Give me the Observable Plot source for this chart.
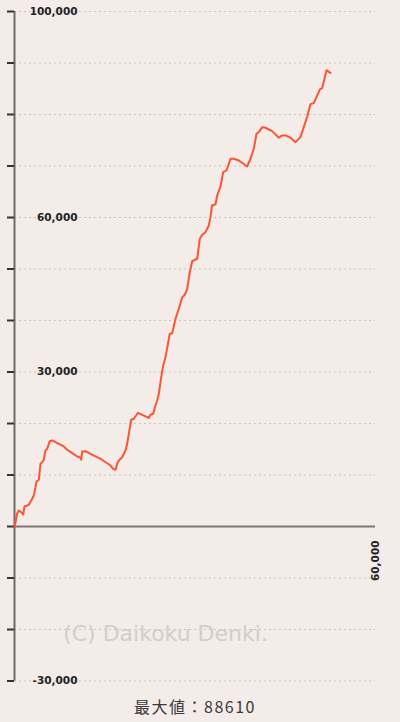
<!DOCTYPE html>
<html>
<head>
<meta charset="utf-8">
<script src="https://cdn.jsdelivr.net/npm/d3@7"></script>
<script src="https://cdn.jsdelivr.net/npm/@observablehq/plot@0.6"></script>
<style>
  html, body { margin: 0; padding: 0; background: #f4ece8; }
  #chart { width: 400px; }
  #caption { width: 390px; height: 32px; line-height: 32px; text-align: center;
    font-family: "Noto Sans CJK JP", "DejaVu Sans", sans-serif; font-size: 16px; color: #3a3a3a; letter-spacing: 1.5px; }
</style>
</head>
<body>
<div id="chart"></div>
<div id="caption"></div>
<script>
// games played (x) and cumulative difference (y)
const games = [0,166,449,715,1114,1446,1662,2111,2377,2942,3208,3490,3656,4039,4321,4604,4870,5152,5435,5867,
  6266,6532,7363,8194,8759,9590,10421,10969,11086,11252,11800,12631,14293,15955,16404,16786,17069,17335,17900,18448,
  18731,18997,19396,19828,20526,21224,22055,22321,22603,23052,23434,23717,23983,24382,24714,25096,25811,26210,26758,27307,
  27872,28304,28703,29135,29534,30365,30797,31196,31744,32293,32575,32825,33406,33689,34237,34686,35234,35899,36447,37278,
  38674,39223,39771,40220,40602,41167,41716,42829,43926,44491,45040,45871,46702,47533,48082,48647,49195,49744,50192,50741,
  51140,51522,51855,52237,52520];
const diff = [0,777,2525,3107,2777,2330,3884,4078,4214,5379,6020,7632,8739,9069,12176,12487,12953,14759,15089,16565,
  16701,16565,16060,15536,14895,14235,13594,13342,12953,14565,14623,14118,13147,11846,11205,11011,12176,12817,13458,14759,
  16060,18003,20721,20916,22081,21693,21227,21071,21693,21887,23498,24469,25770,28994,31266,32878,37423,37539,40336,42278,
  44530,44996,46161,49385,51521,51987,55871,56648,57153,58454,60066,62338,62571,64282,66028,68805,69135,71408,71408,71077,
  69912,71408,73349,76262,76573,77544,77428,76768,75486,75933,75933,75486,74631,75602,77544,79622,82011,82205,83371,84866,
  85119,86944,88610,88280,88086];
const yTicks = [-30000,-20000,-10000,0,10000,20000,30000,40000,50000,60000,70000,80000,90000,100000];
const yLabels = [100000, 60000, 30000, -30000];
const xLabels = [60000];
const watermark = [{x: 25100, y: -20800, text: "(C) Daikoku Denki."}];
const captionText = "最大値：88610";

const series = games.map((g, i) => ({g, d: diff[i]}));
const fmt = d => (d < 0 ? "-" : "") + d3.format(",")(Math.abs(d));

const chart = Plot.plot({
  width: 400,
  height: 690,
  marginLeft: 14,
  marginRight: 25,
  marginTop: 11,
  marginBottom: 9.5,
  style: {background: "transparent", fontFamily: "DejaVu Sans, sans-serif"},
  x: {domain: [0, 60000], axis: null},
  y: {domain: [-30000, 100000], axis: null},
  marks: [
    Plot.ruleY(yTicks.filter(d => d !== 0), {x1: 0, x2: 60000, stroke: "#c9c3c0", strokeWidth: 1, strokeDasharray: "2,3"}),
    Plot.text(watermark, {x: "x", y: "y", text: "text", fontSize: 22, fill: "#d3cdca", textAnchor: "middle"}),
    Plot.ruleY([0], {x1: 0, x2: 60000, stroke: "#7d7877", strokeWidth: 2}),
    Plot.ruleX([0], {stroke: "#6f6a69", strokeWidth: 2}),
    Plot.axisY({ticks: yTicks, tickSize: 7, tickFormat: () => "", stroke: "#333", strokeWidth: 2}),
    Plot.text(yLabels, {y: d => d, frameAnchor: "left", dx: 63, textAnchor: "end", text: d => fmt(d), fontSize: 10.5, fontWeight: "bold", fill: "#222"}),
    Plot.text(xLabels, {x: d => d, y: 0, rotate: -90, textAnchor: "end", dy: 14, text: d => fmt(d), fontSize: 10.5, fontWeight: "bold", fill: "#222"}),
    Plot.line(series, {x: "g", y: "d", stroke: "#fb5533", strokeWidth: 2})
  ]
});
document.getElementById("chart").appendChild(chart);
document.getElementById("caption").textContent = captionText;
</script>
</body>
</html>
